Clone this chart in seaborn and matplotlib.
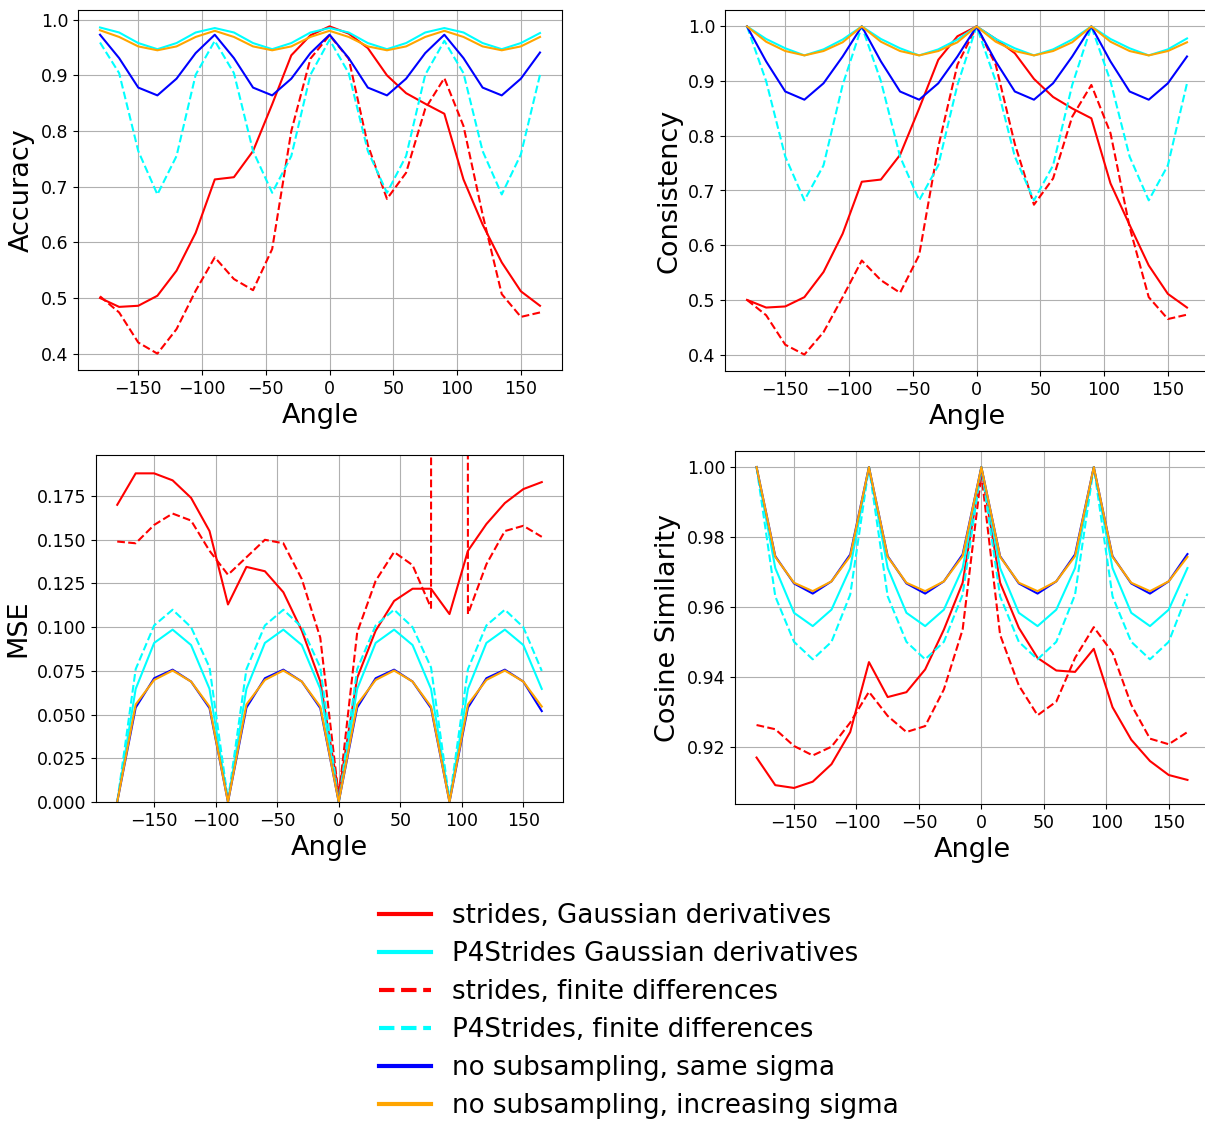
import numpy as np
import matplotlib
matplotlib.use("Agg")
import matplotlib.pyplot as plt
from matplotlib.lines import Line2D
import seaborn as sns

# angles of the rotated inputs
angles = list(range(-180, 166, 15))

labels = [
    "strides, Gaussian derivatives",
    "P4Strides Gaussian derivatives",
    "strides, finite differences",
    "P4Strides, finite differences",
    "no subsampling, same sigma",
    "no subsampling, increasing sigma",
]

# accuracy
acc_strides_gauss = [0.500, 0.484, 0.486, 0.504, 0.549, 0.617, 0.713, 0.717, 0.764, 0.848, 0.936, 0.972,
                     0.988, 0.975, 0.949, 0.900, 0.868, 0.849, 0.831, 0.713, 0.632, 0.564, 0.512, 0.486]
acc_p4_gauss = [0.986, 0.977, 0.958, 0.947, 0.958, 0.977, 0.985, 0.977, 0.958, 0.947, 0.958, 0.977,
                0.985, 0.977, 0.958, 0.947, 0.958, 0.977, 0.985, 0.977, 0.958, 0.947, 0.958, 0.976]
acc_strides_fd = [0.503, 0.474, 0.420, 0.400, 0.444, 0.513, 0.573, 0.534, 0.514, 0.588, 0.800, 0.930,
                  0.972, 0.930, 0.775, 0.678, 0.725, 0.840, 0.895, 0.809, 0.650, 0.507, 0.466, 0.474]
acc_p4_fd = [0.959, 0.904, 0.764, 0.686, 0.755, 0.901, 0.962, 0.904, 0.764, 0.689, 0.755, 0.901,
             0.964, 0.904, 0.764, 0.689, 0.755, 0.901, 0.962, 0.904, 0.764, 0.686, 0.758, 0.901]
acc_nosub_same = [0.973, 0.931, 0.878, 0.864, 0.894, 0.940, 0.973, 0.931, 0.878, 0.864, 0.894, 0.940,
                  0.973, 0.931, 0.878, 0.864, 0.894, 0.940, 0.973, 0.931, 0.878, 0.864, 0.894, 0.941]
acc_nosub_incr = [0.981, 0.969, 0.952, 0.945, 0.952, 0.969, 0.980, 0.969, 0.952, 0.945, 0.952, 0.969,
                  0.980, 0.969, 0.952, 0.945, 0.952, 0.969, 0.980, 0.969, 0.952, 0.945, 0.952, 0.969]

# consistency
con_strides_gauss = [0.500, 0.486, 0.488, 0.505, 0.551, 0.621, 0.716, 0.720, 0.765, 0.850, 0.939, 0.982,
                     1.000, 0.977, 0.951, 0.904, 0.871, 0.850, 0.832, 0.713, 0.637, 0.563, 0.511, 0.486]
con_p4_gauss = [1.000, 0.977, 0.960, 0.947, 0.958, 0.976, 1.000, 0.977, 0.960, 0.947, 0.958, 0.976,
                1.000, 0.977, 0.960, 0.947, 0.958, 0.976, 1.000, 0.977, 0.960, 0.947, 0.958, 0.978]
con_strides_fd = [0.500, 0.472, 0.418, 0.400, 0.441, 0.505, 0.572, 0.536, 0.513, 0.582, 0.780, 0.930,
                  1.000, 0.930, 0.785, 0.674, 0.722, 0.835, 0.893, 0.805, 0.633, 0.505, 0.465, 0.473]
con_p4_fd = [1.000, 0.900, 0.762, 0.682, 0.746, 0.893, 1.000, 0.900, 0.762, 0.682, 0.746, 0.893,
             1.000, 0.900, 0.762, 0.682, 0.746, 0.893, 1.000, 0.900, 0.762, 0.682, 0.746, 0.896]
con_nosub_same = [1.000, 0.936, 0.881, 0.866, 0.896, 0.945, 1.000, 0.936, 0.881, 0.866, 0.896, 0.945,
                  1.000, 0.936, 0.881, 0.866, 0.896, 0.945, 1.000, 0.936, 0.881, 0.866, 0.896, 0.945]
con_nosub_incr = [1.000, 0.972, 0.955, 0.947, 0.955, 0.971, 1.000, 0.972, 0.955, 0.947, 0.955, 0.971,
                  1.000, 0.972, 0.955, 0.947, 0.955, 0.971, 1.000, 0.972, 0.955, 0.947, 0.955, 0.971]

# MSE (strides, finite differences blows up at 90 degrees)
mse_strides_gauss = [0.170, 0.188, 0.188, 0.184, 0.174, 0.155, 0.113, 0.1345, 0.132, 0.120, 0.098, 0.069,
                     0.005, 0.071, 0.098, 0.115, 0.122, 0.122, 0.1075, 0.1437, 0.159, 0.171, 0.179, 0.183]
mse_p4_gauss = [0.0, 0.0647, 0.091, 0.0986, 0.0898, 0.0647, 0.0005, 0.0647, 0.091, 0.0986, 0.0898, 0.0647,
                0.0, 0.0647, 0.091, 0.0986, 0.0898, 0.0647, 0.0005, 0.0647, 0.091, 0.0986, 0.0898, 0.0647]
mse_strides_fd = [0.149, 0.148, 0.1585, 0.165, 0.161, 0.1437, 0.130, 0.140, 0.150, 0.148, 0.1275, 0.094,
                  0.003, 0.097, 0.1265, 0.143, 0.1355, 0.111, 25.0, 0.1075, 0.136, 0.155, 0.158, 0.1517]
mse_p4_fd = [0.0, 0.076, 0.101, 0.110, 0.100, 0.077, 0.001, 0.076, 0.101, 0.110, 0.100, 0.077,
             0.0, 0.076, 0.101, 0.110, 0.100, 0.077, 0.001, 0.076, 0.101, 0.110, 0.100, 0.075]
mse_nosub_same = [0.0, 0.054, 0.0708, 0.0757, 0.0689, 0.0537, 0.0, 0.054, 0.0708, 0.0757, 0.0689, 0.0537,
                  0.0, 0.054, 0.0708, 0.0757, 0.0689, 0.0537, 0.0, 0.054, 0.0708, 0.0757, 0.0689, 0.052]
mse_nosub_incr = [0.0, 0.0558, 0.0698, 0.0752, 0.0689, 0.0546, 0.0, 0.0558, 0.0698, 0.0752, 0.0689, 0.0546,
                  0.0, 0.0558, 0.0698, 0.0752, 0.0689, 0.0546, 0.0, 0.0558, 0.0698, 0.0752, 0.0689, 0.0546]

# cosine similarity
cos_strides_gauss = [0.9169, 0.9090, 0.9082, 0.9100, 0.9150, 0.9242, 0.9442, 0.9342, 0.9356, 0.9421, 0.9535, 0.9669,
                     0.9995, 0.9669, 0.9540, 0.9454, 0.9418, 0.9414, 0.9480, 0.9313, 0.9220, 0.9159, 0.9119, 0.9105]
cos_p4_gauss = [1.0, 0.9711, 0.9583, 0.9545, 0.9592, 0.9711, 1.0, 0.9711, 0.9583, 0.9545, 0.9592, 0.9711,
                1.0, 0.9711, 0.9583, 0.9545, 0.9592, 0.9711, 1.0, 0.9711, 0.9583, 0.9545, 0.9592, 0.9711]
cos_strides_fd = [0.9262, 0.9250, 0.9202, 0.9175, 0.9200, 0.9269, 0.9357, 0.9288, 0.9242, 0.9259, 0.9364, 0.9535,
                  0.9980, 0.9520, 0.9375, 0.9290, 0.9329, 0.9454, 0.9542, 0.9469, 0.9320, 0.9223, 0.9207, 0.9242]
cos_p4_fd = [1.0, 0.9630, 0.9500, 0.9450, 0.9500, 0.9635, 1.0, 0.9630, 0.9500, 0.9450, 0.9500, 0.9635,
             1.0, 0.9630, 0.9500, 0.9450, 0.9500, 0.9635, 1.0, 0.9630, 0.9500, 0.9450, 0.9500, 0.9638]
cos_nosub_same = [1.0, 0.9745, 0.9667, 0.9638, 0.9673, 0.9750, 1.0, 0.9745, 0.9667, 0.9638, 0.9673, 0.9750,
                  1.0, 0.9745, 0.9667, 0.9638, 0.9673, 0.9750, 1.0, 0.9745, 0.9667, 0.9638, 0.9673, 0.9751]
cos_nosub_incr = [1.0, 0.9743, 0.9669, 0.9645, 0.9673, 0.9745, 1.0, 0.9743, 0.9669, 0.9645, 0.9673, 0.9745,
                  1.0, 0.9743, 0.9669, 0.9645, 0.9673, 0.9745, 1.0, 0.9743, 0.9669, 0.9645, 0.9673, 0.9743]

colors = ["red", "cyan", "red", "cyan", "blue", "orange"]
styles = ["-", "-", "--", "--", "-", "-"]

panels = [
    ("Accuracy", [acc_strides_gauss, acc_p4_gauss, acc_strides_fd, acc_p4_fd, acc_nosub_same, acc_nosub_incr]),
    ("Consistency", [con_strides_gauss, con_p4_gauss, con_strides_fd, con_p4_fd, con_nosub_same, con_nosub_incr]),
    ("MSE", [mse_strides_gauss, mse_p4_gauss, mse_strides_fd, mse_p4_fd, mse_nosub_same, mse_nosub_incr]),
    ("Cosine Similarity", [cos_strides_gauss, cos_p4_gauss, cos_strides_fd, cos_p4_fd, cos_nosub_same, cos_nosub_incr]),
]

W, H = 1205, 1122
fig = plt.figure(figsize=(W / 100, H / 100), dpi=100)

# axes boxes in pixels: left, top, right, bottom (right column runs past the crop)
boxes = [(78, 10, 562, 370), (725, 10, 1209, 371), (96, 455, 563, 802), (735, 451, 1209, 804)]

for (ylabel, series), (l, t, r, b) in zip(panels, boxes):
    ax = fig.add_axes([l / W, (H - b) / H, (r - l) / W, (b - t) / H])
    for vals, c, ls in zip(series, colors, styles):
        sns.lineplot(x=angles, y=vals, ax=ax, color=c, linestyle=ls, linewidth=1.5)
    ax.grid(True, color="#b0b0b0", linewidth=0.8)
    ax.set_axisbelow(True)
    ax.set_xlabel("Angle", fontsize=19.5)
    ax.set_ylabel(ylabel, fontsize=19.5)
    ax.tick_params(labelsize=12.5)
    if ylabel == "MSE":
        ax.set_ylim(0, 0.1985)

handles = [Line2D([0], [0], color=c, linestyle=ls, linewidth=3) for c, ls in zip(colors, styles)]
fig.legend(handles, labels, loc="center", bbox_to_anchor=(0.530, 0.0990), frameon=False,
           fontsize=18.8, handlelength=2.0, labelspacing=0.46)

fig.savefig("out.png", dpi=100)
